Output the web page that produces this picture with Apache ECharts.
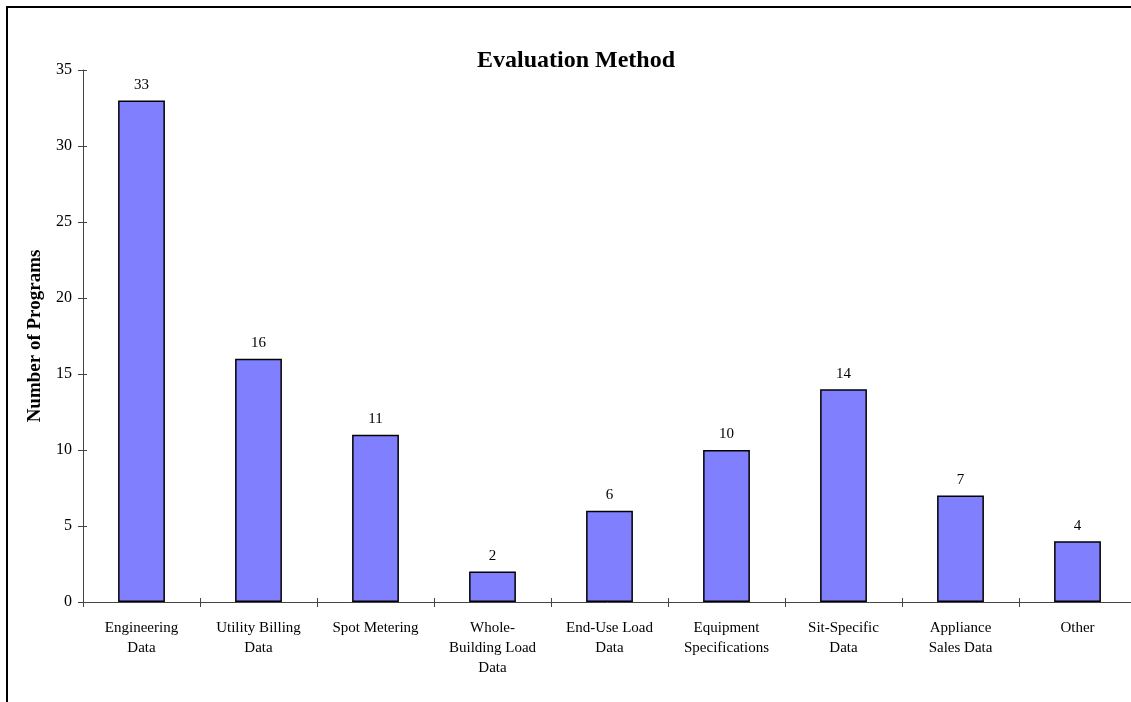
<!DOCTYPE html>
<html>
<head>
<meta charset="utf-8">
<script src="https://cdn.jsdelivr.net/npm/echarts@6/dist/echarts.min.js"></script>
<style>
  html, body { margin: 0; padding: 0; background: #fff; }
  #chart { width: 1131px; height: 702px; }
</style>
</head>
<body>
<div id="chart"></div>
<script>
// Evaluation methods used by programs
const categories = [
  'Engineering\nData',
  'Utility Billing\nData',
  'Spot Metering',
  'Whole-\nBuilding Load\nData',
  'End-Use Load\nData',
  'Equipment\nSpecifications',
  'Sit-Specific\nData',
  'Appliance\nSales Data',
  'Other'
];
const programCounts = [33, 16, 11, 2, 6, 10, 14, 7, 4];
const yTicks = { min: 0, max: 35, interval: 5 };

const serif = '"Liberation Serif", "Times New Roman", serif';
const axisColor = '#444';

const chart = echarts.init(document.getElementById('chart'));
chart.setOption({
  animation: false,
  backgroundColor: '#fff',
  title: {
    text: 'Evaluation Method',
    left: 472,
    top: 44,
    textStyle: { fontFamily: serif, fontSize: 24, fontWeight: 'bold', color: '#000' }
  },
  grid: { left: 83, top: 70, width: 1053, height: 532, outerBoundsMode: 'none', containLabel: false },
  xAxis: [
    {
      type: 'category',
      data: categories,
      axisLine: { lineStyle: { color: axisColor, width: 1 } },
      axisTick: { show: true, inside: false, length: 5, lineStyle: { color: axisColor } },
      axisLabel: {
        interval: 0, margin: 16, lineHeight: 20,
        fontFamily: serif, fontSize: 15, color: '#000'
      }
    },
    {
      type: 'category',
      data: categories,
      position: 'bottom',
      axisLine: { show: false },
      axisTick: { show: true, inside: true, length: 4, lineStyle: { color: axisColor } },
      axisLabel: { show: false }
    }
  ],
  yAxis: [
    {
      type: 'value',
      min: yTicks.min, max: yTicks.max, interval: yTicks.interval,
      name: 'Number of Programs',
      nameLocation: 'middle',
      nameGap: 38,
      nameRotate: 90,
      nameTextStyle: { fontFamily: serif, fontSize: 19, fontWeight: 'bold', color: '#000' },
      axisLine: { show: true, lineStyle: { color: axisColor, width: 1 } },
      axisTick: { show: true, inside: false, length: 5, lineStyle: { color: axisColor } },
      splitLine: { show: false },
      axisLabel: { margin: 11, fontFamily: serif, fontSize: 16, color: '#000' }
    },
    {
      type: 'value',
      position: 'left',
      min: yTicks.min, max: yTicks.max, interval: yTicks.interval,
      axisLine: { show: false },
      axisTick: { show: true, inside: true, length: 4, lineStyle: { color: axisColor } },
      splitLine: { show: false },
      axisLabel: { show: false }
    }
  ],
  series: [{
    type: 'bar',
    data: programCounts,
    barWidth: '40%',
    itemStyle: { color: '#8080FF', borderColor: '#000', borderWidth: 1.5 },
    label: {
      show: true, position: 'top', distance: 8,
      fontFamily: serif, fontSize: 15, color: '#000'
    }
  }],
  graphic: [
    {
      type: 'polyline',
      shape: { points: [[7, 702], [7, 7], [1131, 7]] },
      style: { stroke: '#000', lineWidth: 2, fill: null }
    }
  ]
});
</script>
</body>
</html>
